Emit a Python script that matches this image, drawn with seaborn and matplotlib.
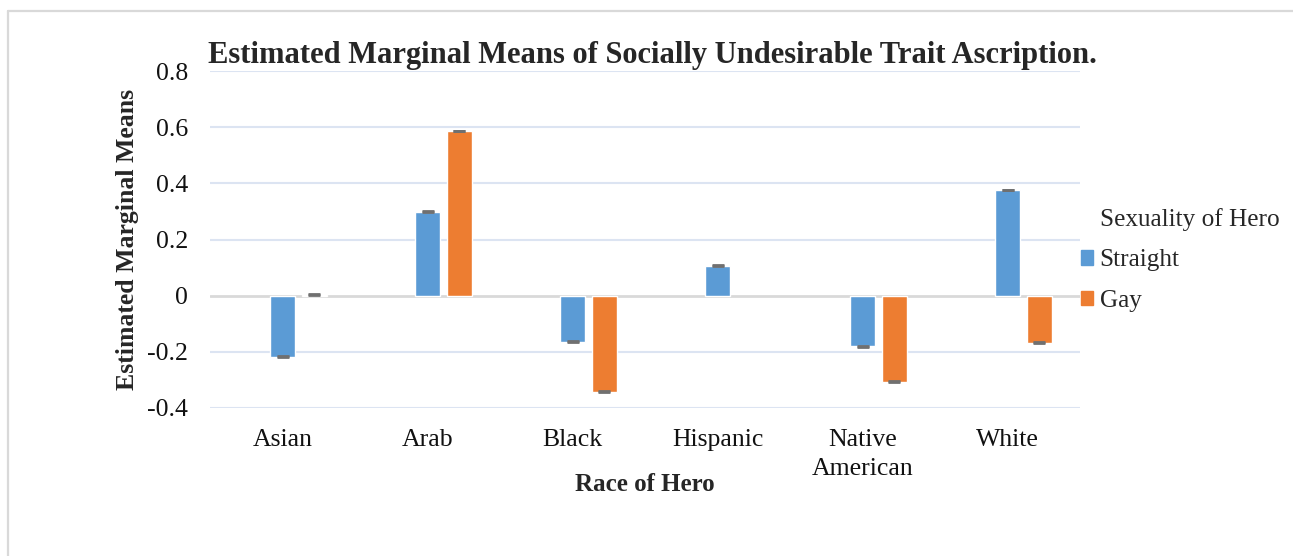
import numpy as np
import pandas as pd
import matplotlib
matplotlib.use("Agg")
import matplotlib.pyplot as plt
import matplotlib.patches as mpatches
from matplotlib.lines import Line2D
import seaborn as sns

# values
races = ["Asian", "Arab", "Black", "Hispanic", "Native\nAmerican", "White"]
straight = [-0.217, 0.299, -0.164, 0.107, -0.181, 0.376]
gay = [0.004, 0.586, -0.342, np.nan, -0.306, -0.167]
y_ticks = [-0.4, -0.2, 0, 0.2, 0.4, 0.6, 0.8]

BLUE = "#5B9BD5"
ORANGE = "#ED7D31"

df = pd.DataFrame({
    "race": races * 2,
    "sexuality": ["Straight"] * len(races) + ["Gay"] * len(races),
    "mean": straight + gay,
})

sns.set_theme(style="white")
plt.rcParams["font.family"] = ["Liberation Serif", "DejaVu Serif"]
plt.rcParams["axes.unicode_minus"] = False

fig = plt.figure(figsize=(12.93, 5.56), dpi=100)
ax = fig.add_axes([210 / 1293, 1 - 408 / 556, 870 / 1293, 337 / 556])

# Excel left an empty slot before "Straight", so bars sit right of centre
sns.barplot(data=df, x="race", y="mean", hue="sexuality",
            order=races, hue_order=["pad", "Straight", "Gay"],
            palette={"pad": "white", "Straight": BLUE, "Gay": ORANGE},
            width=0.662, gap=0.22, errorbar=None, legend=False,
            saturation=1, ax=ax, zorder=3)

# tiny standard-error caps at the end of each bar
for p in ax.patches:
    h = p.get_height()
    if np.isnan(h):
        continue
    xc = p.get_x() + p.get_width() / 2
    ax.errorbar(xc, p.get_y() + h, yerr=0.001, fmt="none",
                ecolor="#707070", elinewidth=1, capsize=4.2,
                capthick=2, zorder=4)

ax.set_ylim(-0.4, 0.8)
ax.set_yticks(y_ticks)
ax.set_yticklabels([f"{v:g}" for v in y_ticks])
ax.set_xlim(-0.5, len(races) - 0.5)

for v in y_ticks:
    c = "#D9D9D9" if v == 0 else "#DCE4F2"
    ax.axhline(v, color=c, lw=2 if v == 0 else 1.5, zorder=1)

for s in ax.spines.values():
    s.set_visible(False)
ax.tick_params(axis="both", length=0, labelsize=18.5, labelcolor="#111111")
ax.tick_params(axis="y", pad=16)
ax.tick_params(axis="x", pad=15)
for lbl in ax.get_xticklabels():
    lbl.set_linespacing(1.4)

ax.set_xlabel("Race of Hero", fontsize=18, fontweight="bold")
ax.set_ylabel("Estimated Marginal Means", fontsize=18.5, fontweight="bold")
ax.xaxis.set_label_coords(0.5, -65 / 337)
ax.yaxis.set_label_coords(-71 / 870, 0.5)

fig.text(652 / 1293, 1 - 56 / 556,
         "Estimated Marginal Means of Socially Undesirable Trait Ascription.",
         ha="center", va="center", fontsize=22, fontweight="bold")

handles = [mpatches.Patch(color="none"),
           mpatches.Patch(color=BLUE), mpatches.Patch(color=ORANGE)]
fig.legend(handles, ["Sexuality of Hero", "Straight", "Gay"],
           loc="center left", bbox_to_anchor=(1068 / 1293, 1 - 260 / 556),
           frameon=False, fontsize=18.2, handlelength=0.5, handleheight=0.5,
           handletextpad=0.25, labelspacing=0.74, borderpad=0)

# outer chart frame (only top and left edges are inside the picture)
fig.add_artist(Line2D([8 / 1293, 1.0], [1 - 11 / 556, 1 - 11 / 556],
                      transform=fig.transFigure, color="#D9D9D9", lw=1.6))
fig.add_artist(Line2D([8 / 1293, 8 / 1293], [0.0, 1 - 11 / 556],
                      transform=fig.transFigure, color="#D9D9D9", lw=1.6))

fig.savefig("out.png", dpi=100)
